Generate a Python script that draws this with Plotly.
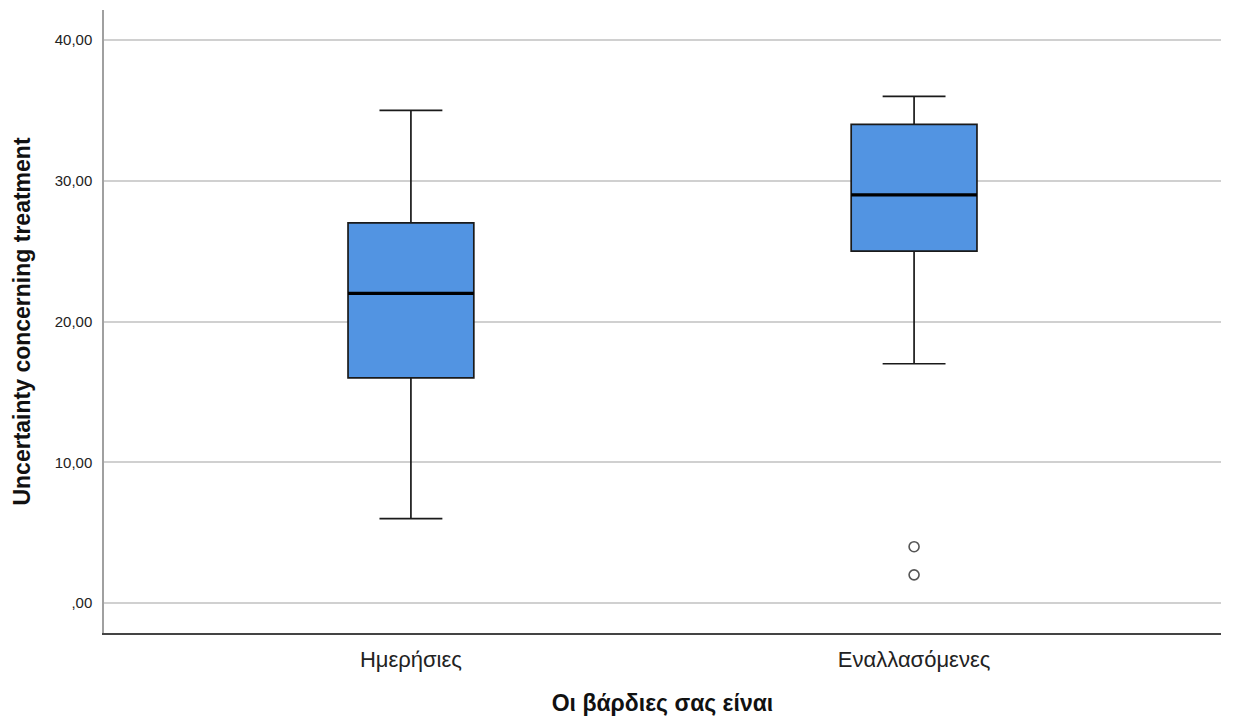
import plotly.graph_objects as go

categories = ["Ημερήσιες", "Εναλλασόμενες"]
lower_whisker = [6, 17]
q1_vals = [16, 25]
median_vals = [22, 29]
q3_vals = [27, 34]
upper_whisker = [35, 36]
outlier_cats = ["Εναλλασόμενες", "Εναλλασόμενες"]
outlier_vals = [4, 2]
ytick_vals = [0, 10, 20, 30, 40]
ytick_text = [",00", "10,00", "20,00", "30,00", "40,00"]

FONT = "Liberation Sans, Arial, sans-serif"

fig = go.Figure()
fig.add_trace(go.Box(
    x=categories, q1=q1_vals, median=median_vals, q3=q3_vals,
    lowerfence=lower_whisker, upperfence=upper_whisker,
    fillcolor="#5294e2", line=dict(color="#1a1a1a", width=1.7),
    width=0.25, whiskerwidth=0.5, boxpoints=False, hoverinfo="skip",
    showlegend=False,
))
# thick median line overlay
fig.add_trace(go.Box(
    x=categories, q1=median_vals, median=median_vals, q3=median_vals,
    lowerfence=median_vals, upperfence=median_vals,
    fillcolor="rgba(0,0,0,0)", line=dict(color="#000000", width=3.2),
    width=0.25, whiskerwidth=0, boxpoints=False, hoverinfo="skip",
    showlegend=False,
))
fig.add_trace(go.Scatter(
    x=outlier_cats, y=outlier_vals, mode="markers",
    marker=dict(symbol="circle-open", size=10, color="#555555", line=dict(width=1.6)),
    showlegend=False, hoverinfo="skip",
))

fig.update_layout(
    width=1233, height=724,
    margin=dict(l=104, r=12, t=10, b=91),
    paper_bgcolor="white", plot_bgcolor="white",
    font=dict(family=FONT, color="#111111"),
    showlegend=False,
)
fig.update_xaxes(
    type="category", range=[-0.61, 1.61],
    showgrid=False, zeroline=False,
    showline=True, linecolor="#444444", linewidth=1.5,
    ticks="", ticklabelstandoff=6,
    tickfont=dict(size=22, family=FONT, color="#222222"),
    title=dict(text="<b>Οι βάρδιες σας είναι</b>", font=dict(size=23, family=FONT, color="#111111"), standoff=24),
)
fig.update_yaxes(
    range=[-2.13, 42.13],
    tickvals=ytick_vals, ticktext=ytick_text,
    showgrid=True, gridcolor="#d0d0d0", gridwidth=1.5,
    zeroline=False,
    showline=True, linecolor="#a0a0a0", linewidth=1.5,
    ticks="", ticklabelstandoff=7,
    tickfont=dict(size=15, family=FONT, color="#222222"),
    title=dict(text="<b>Uncertainty concerning treatment</b>", font=dict(size=23, family=FONT, color="#111111"), standoff=18),
)

fig.write_html("out.html")
